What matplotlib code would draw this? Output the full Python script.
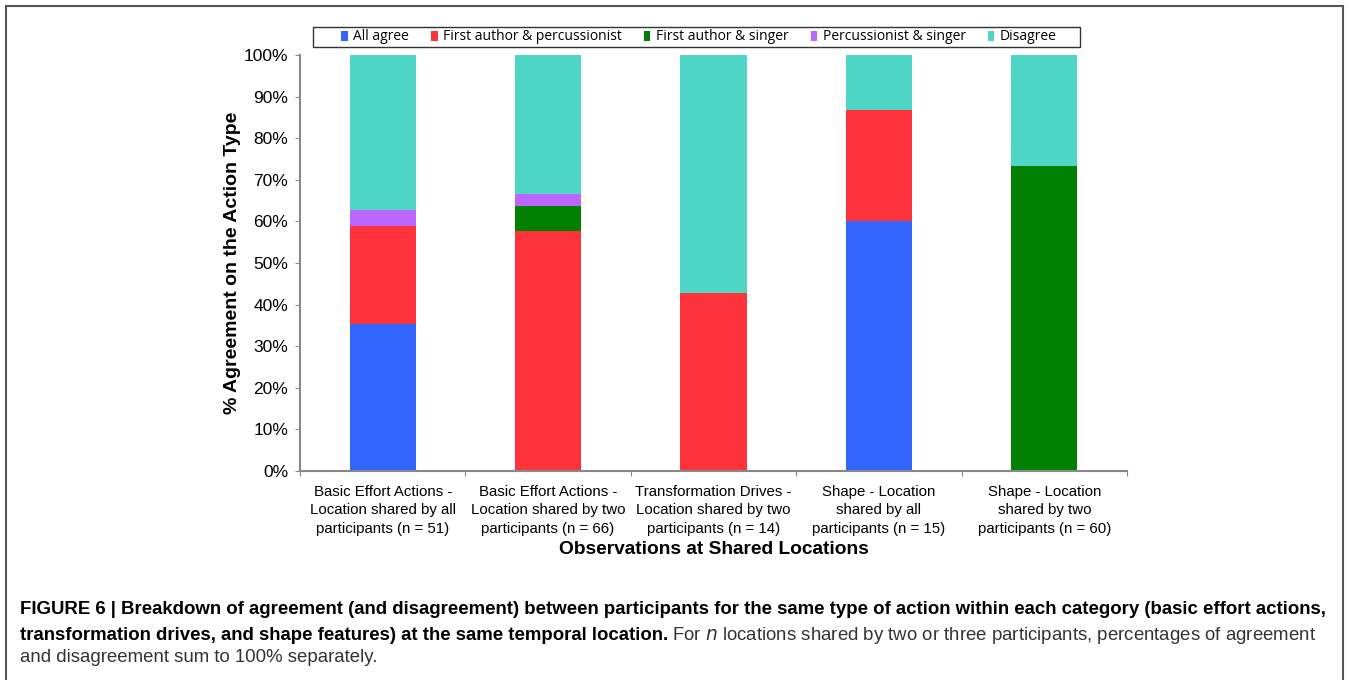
import matplotlib
matplotlib.use("Agg")
import matplotlib.pyplot as plt
from matplotlib.patches import Rectangle
import numpy as np

categories = [
    "Basic Effort Actions -\nLocation shared by all\nparticipants (n = 51)",
    "Basic Effort Actions -\nLocation shared by two\nparticipants (n = 66)",
    "Transformation Drives -\nLocation shared by two\nparticipants (n = 14)",
    "Shape - Location\nshared by all\nparticipants (n = 15)",
    "Shape - Location\nshared by two\nparticipants (n = 60)",
]
series_names = ["All agree", "First author & percussionist", "First author & singer",
                "Percussionist & singer", "Disagree"]
all_agree = [35.3, 0, 0, 60.0, 0]
first_perc = [23.5, 57.6, 42.9, 26.7, 0]
first_singer = [0, 6.1, 0, 0, 73.3]
perc_singer = [3.9, 3.0, 0, 0, 0]
disagree = [37.3, 33.3, 57.1, 13.3, 26.7]
colors = ["#3366ff", "#ff333b", "#007f00", "#bb66ff", "#4fd6c6"]

series = [all_agree, first_perc, first_singer, perc_singer, disagree]

W, H = 1349, 680
fig = plt.figure(figsize=(W / 100, H / 100), dpi=100)
ax = fig.add_axes([300/W, 1-471/H, 827/W, 416/H])

x = np.arange(len(categories))
bottom = np.zeros(len(categories))
for name, vals, c in zip(series_names, series, colors):
    ax.bar(x, vals, width=0.4, bottom=bottom, color=c, label=name, edgecolor="none")
    bottom += np.array(vals)

ax.set_xlim(-0.5, len(categories) - 0.5)
ax.set_ylim(0, 100)
ax.set_yticks(np.arange(0, 101, 10))
ax.set_yticklabels([f"{v}%" for v in range(0, 101, 10)], fontsize=12.5,
                   family="Liberation Sans")
ax.set_xticks(np.arange(-0.5, len(categories), 1))
ax.set_xticklabels([])
ax.set_xticks(x, minor=True)
ax.set_xticklabels(categories, minor=True, fontsize=10.8, family="Liberation Sans",
                   linespacing=1.4)
ax.tick_params(axis="x", which="minor", length=0, pad=10)
ax.tick_params(axis="x", which="major", length=3.5, color="#888888", direction="out")
ax.tick_params(axis="y", length=3.5, color="#888888", direction="out", pad=5)
for s in ["top", "right"]:
    ax.spines[s].set_visible(False)
for s in ["left", "bottom"]:
    ax.spines[s].set_color("#888888")
    ax.spines[s].set_linewidth(1.5)

ax.set_ylabel("% Agreement on the Action Type", fontsize=14, fontweight="bold",
              family="Liberation Sans", labelpad=2)
ax.set_xlabel("Observations at Shared Locations", fontsize=13.8, fontweight="bold",
              family="Liberation Sans", labelpad=4)

# legend box drawn separately, legend entries centred inside it
fig.patches.append(Rectangle((313/W, 1-47/H), 767/W, 20/H, transform=fig.transFigure,
                             fill=False, edgecolor="#333333", linewidth=1.0))
leg = fig.legend(*ax.get_legend_handles_labels(), loc="center",
                 bbox_to_anchor=(699/W, 1-37/H), ncol=5, frameon=False,
                 prop={"family": "Open Sans", "size": 10}, handlelength=0.45,
                 handleheight=0.75, handletextpad=0.4, borderpad=0, borderaxespad=0,
                 columnspacing=1.6)

# outer frame
fig.patches.append(Rectangle((6/W, -0.05), 1337/W, 1.05 - 6/H, transform=fig.transFigure,
                             fill=False, edgecolor="#555555", linewidth=1.5))

cap_font = ["Liberation Sans Narrow", "Liberation Sans"]
cap_size = 13.4
fig.text(20/W, 1-610/H,
         "FIGURE 6 | Breakdown of agreement (and disagreement) between participants for the same type of action within each category (basic effort actions,",
         fontsize=cap_size, fontweight="bold", family=cap_font, va="center")
t1 = fig.text(20/W, 1-635/H,
              "transformation drives, and shape features) at the same temporal location.",
              fontsize=cap_size, fontweight="bold", family=cap_font, va="center")
fig.canvas.draw()
bb = t1.get_window_extent()
fig.text((bb.x1 + 4)/W, 1-635/H,
         "For $\\it{n}$ locations shared by two or three participants, percentages of agreement",
         fontsize=cap_size, family=cap_font, va="center", color="#333333")
fig.text(20/W, 1-658/H, "and disagreement sum to 100% separately.",
         fontsize=cap_size, family=cap_font, va="center", color="#333333")

fig.savefig("out.png", dpi=100)
